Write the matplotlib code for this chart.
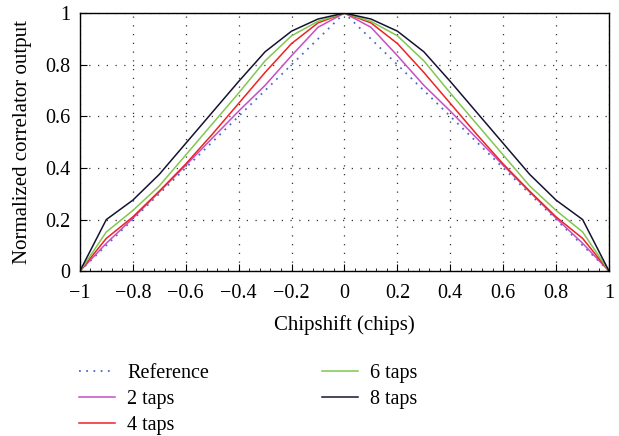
import matplotlib
matplotlib.use("Agg")
import matplotlib.pyplot as plt
from matplotlib.ticker import AutoMinorLocator

plt.rcParams['font.family'] = ['Liberation Serif', 'DejaVu Serif']

# Chip shift values (left half, symmetric about 0)
x_left = [-1.0, -0.9, -0.8, -0.7, -0.6, -0.5, -0.4, -0.3, -0.2, -0.1, 0.0]
ref_left = [0.0, 0.10, 0.20, 0.30, 0.40, 0.50, 0.60, 0.70, 0.80, 0.90, 1.0]
taps2_left = [0.0, 0.108, 0.205, 0.307, 0.41, 0.515, 0.62, 0.72, 0.835, 0.945, 1.0]
taps4_left = [0.0, 0.127, 0.21, 0.31, 0.415, 0.53, 0.65, 0.77, 0.882, 0.962, 1.0]
taps6_left = [0.0, 0.152, 0.235, 0.33, 0.45, 0.57, 0.69, 0.815, 0.912, 0.968, 1.0]
taps8_left = [0.0, 0.20, 0.275, 0.375, 0.495, 0.615, 0.735, 0.85, 0.93, 0.977, 1.0]

labels = ["Reference", "2 taps", "4 taps", "6 taps", "8 taps"]
colors = ["#4a6cc8", "#c450c4", "#ee2222", "#80c850", "#141432"]
styles = [(0, (1, 3)), "-", "-", "-", "-"]


def full(xs, ys):
    xx = list(xs) + [-v for v in reversed(xs[:-1])]
    yy = list(ys) + list(reversed(ys[:-1]))
    return xx, yy


series = [ref_left, taps2_left, taps4_left, taps6_left, taps8_left]

fig = plt.figure(figsize=(6.19, 4.36), dpi=100)
ax = fig.add_axes([0.129, 0.378, 0.855, 0.592])

handles = []
for ys, lab, c, ls in zip(series, labels, colors, styles):
    xx, yy = full(x_left, ys)
    lw = 1.3 if ls != "-" else 1.1
    h, = ax.plot(xx, yy, color=c, linestyle=ls, linewidth=lw, label=lab)
    handles.append(h)

ax.set_xlim(-1, 1)
ax.set_ylim(0, 1)
ax.set_xticks([-1, -0.8, -0.6, -0.4, -0.2, 0, 0.2, 0.4, 0.6, 0.8, 1])
ax.set_xticklabels(["\u22121", "\u22120.8", "\u22120.6", "\u22120.4", "\u22120.2", "0",
                    "0.2", "0.4", "0.6", "0.8", "1"])
ax.set_yticks([0, 0.2, 0.4, 0.6, 0.8, 1])
ax.set_yticklabels(["0", "0.2", "0.4", "0.6", "0.8", "1"])
ax.xaxis.set_minor_locator(AutoMinorLocator(5))
ax.tick_params(axis='both', which='major', direction='in', length=5, labelsize=14.5, width=0.8)
ax.tick_params(axis='x', which='minor', direction='in', length=2.5, width=0.6)
ax.tick_params(axis='x', pad=9)
ax.tick_params(axis='y', pad=7)
ax.grid(True, which='major', color='#333333', linestyle=(0, (1, 6)), linewidth=0.9)
for s in ax.spines.values():
    s.set_linewidth(1.0)

ax.set_xlabel("Chipshift (chips)", fontsize=15, labelpad=9)
ax.set_ylabel("Normalized correlator output", fontsize=15, labelpad=9)

fig.legend(handles=handles, labels=labels, loc='upper left',
           bbox_to_anchor=(0.127, 0.165), ncol=2, frameon=False,
           fontsize=14.5, handlelength=1.8, handletextpad=0.6,
           columnspacing=5.6, labelspacing=0.33, borderaxespad=0,
           borderpad=0)

fig.savefig("out.png", dpi=100)
